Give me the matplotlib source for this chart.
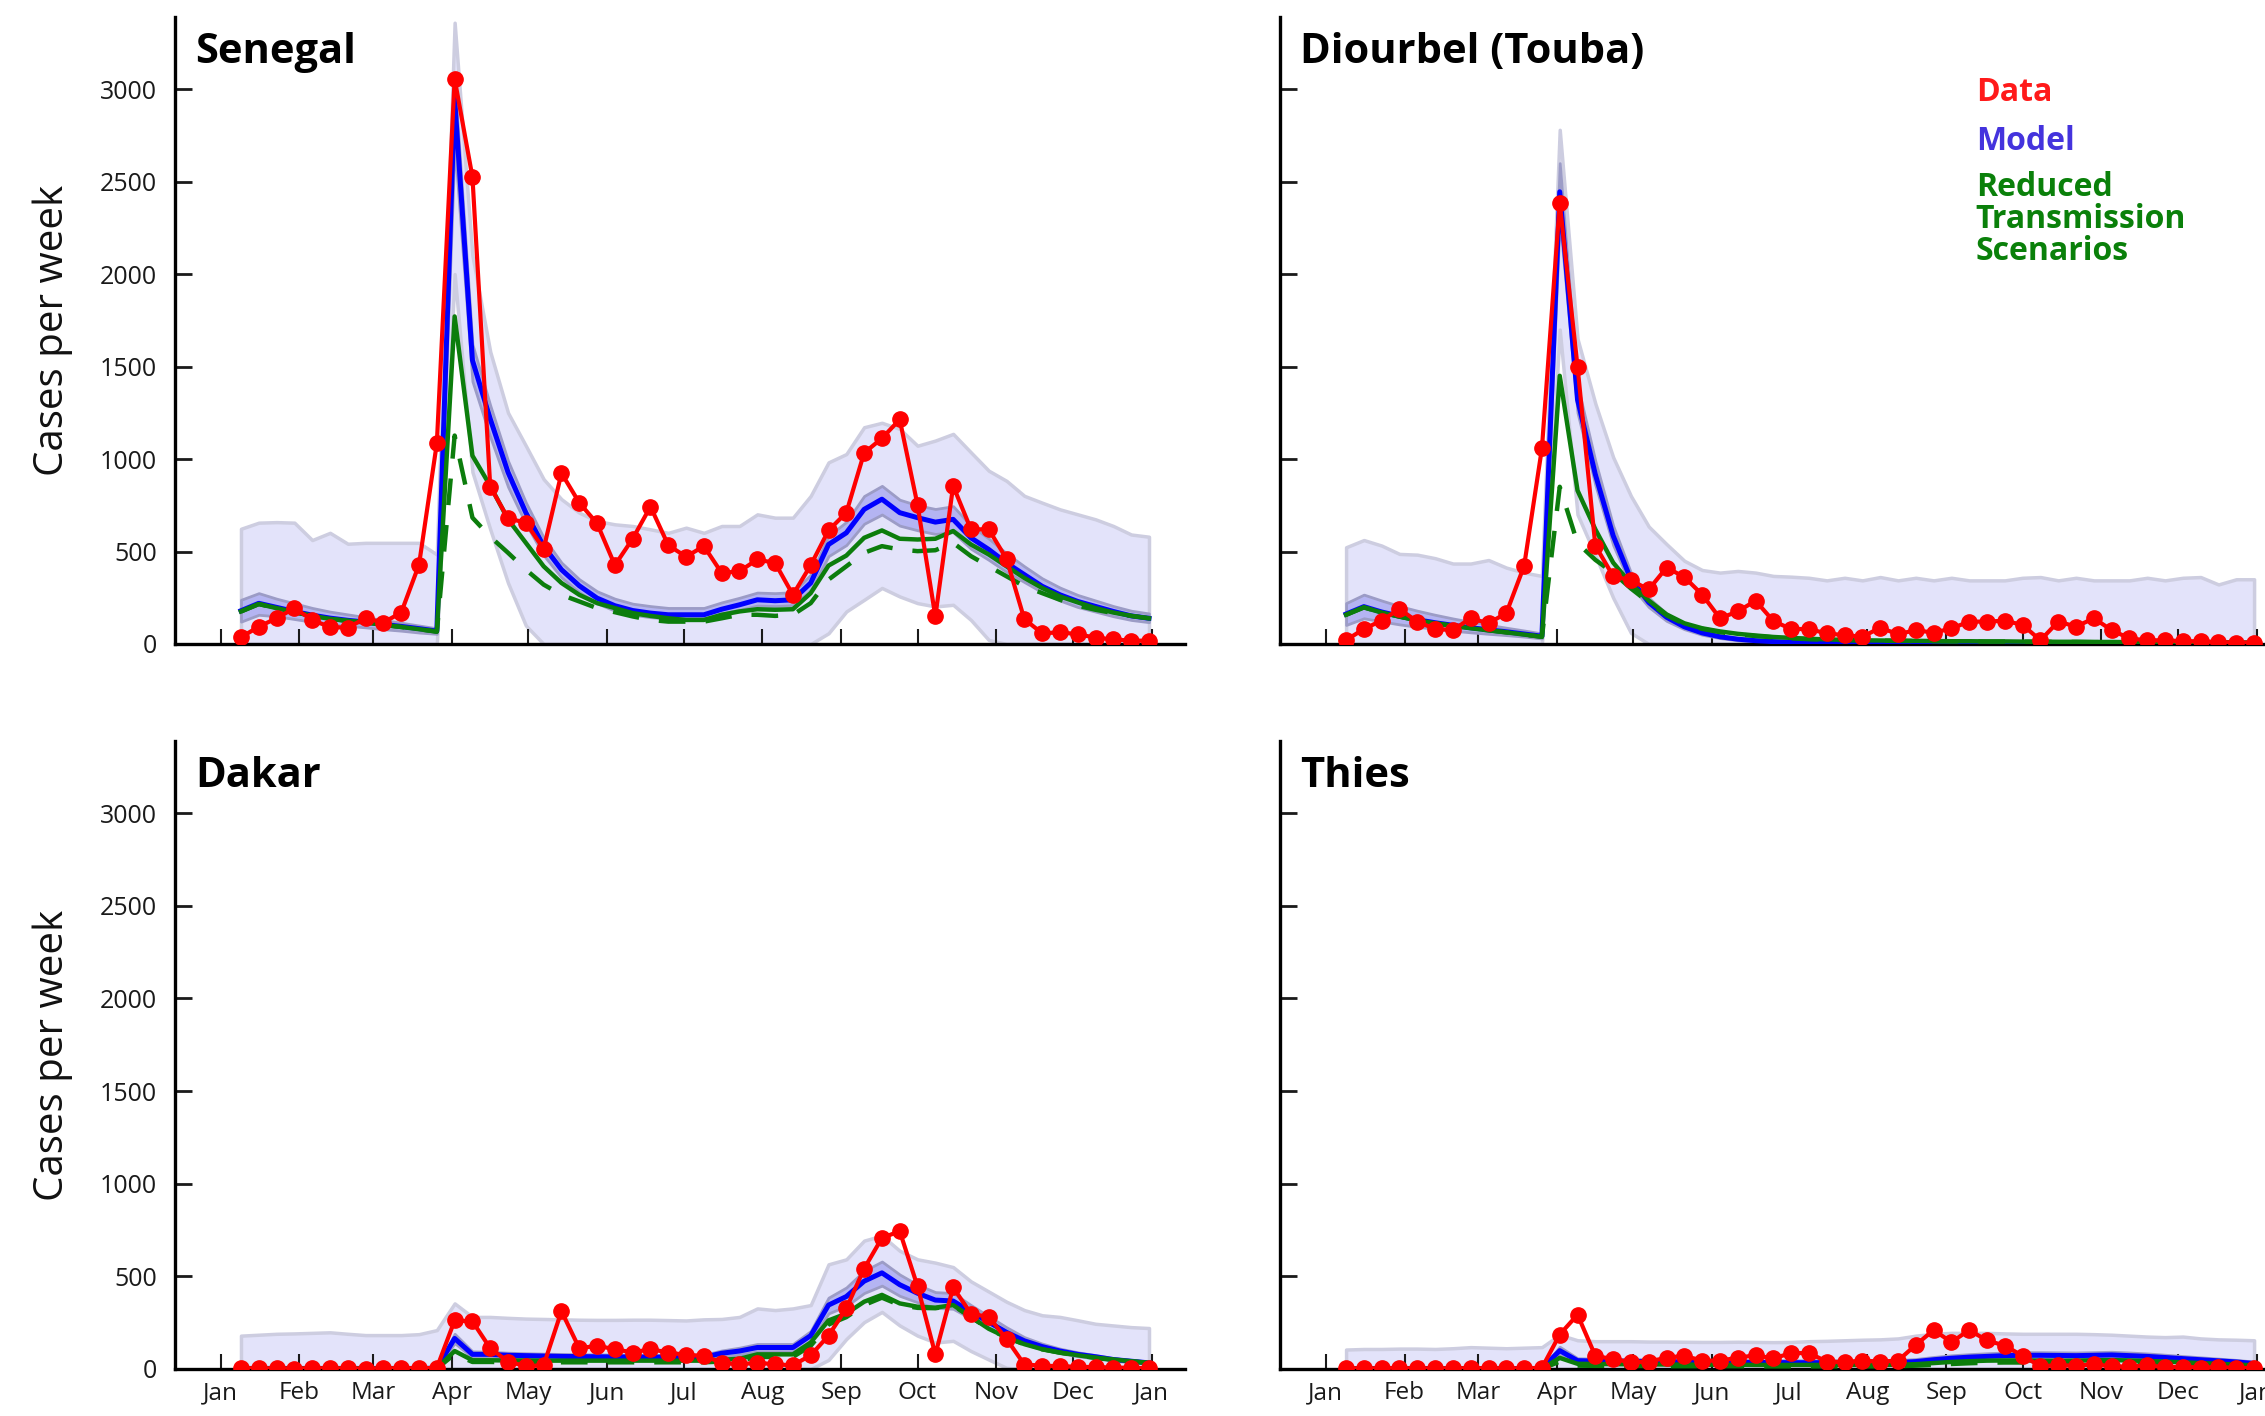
import numpy as np
import pandas as pd
import matplotlib
matplotlib.use('Agg')
import matplotlib.pyplot as plt

# weekly time grid and month ticks
weeks = pd.date_range('2020-01-09', periods=52, freq='7D')
month_ticks = pd.date_range('2020-01-01', '2021-01-01', freq='MS')
month_labels = [d.strftime('%b') for d in month_ticks]
y_ticks = [0, 500, 1000, 1500, 2000, 2500, 3000]

panel_names = ['Senegal', 'Diourbel (Touba)', 'Dakar', 'Thies']

# ---- Senegal ----
senegal_data = [36, 94, 139, 194, 130, 91, 89, 139, 116, 170, 429, 1085,
                3056, 2525, 851, 679, 656, 514, 924, 764, 652, 426, 569, 743, 534, 472,
                529, 384, 393, 457, 438, 266, 426, 614, 710, 1033, 1112, 1214, 752, 149,
                855, 620, 620, 460, 134, 58, 63, 53, 34, 25, 18, 18]
senegal_model = [180, 220, 198, 176, 156, 140, 128, 119, 106, 95, 83, 70,
                 2947, 1534, 1217, 928, 710, 529, 402, 315, 248, 207, 181, 167, 158, 158,
                 158, 188, 212, 239, 234, 239, 330, 538, 601, 728, 783, 710, 683, 659,
                 674, 574, 511, 438, 375, 312, 266, 230, 203, 176, 152, 139]
senegal_reduced = [176, 216, 194, 172, 152, 136, 125, 116, 103, 92, 80, 67,
                   1771, 1018, 855, 674, 547, 420, 330, 266, 221, 194, 167, 152, 139, 130,
                   130, 158, 176, 188, 185, 188, 275, 424, 478, 574, 614, 569, 565, 569,
                   611, 538, 484, 420, 357, 303, 257, 225, 194, 170, 152, 139]
senegal_reduced2 = [176, 216, 194, 172, 152, 136, 125, 116, 103, 92, 80, 67,
                    1127, 683, 580, 493, 402, 321, 266, 230, 194, 172, 149, 130, 121, 121,
                    121, 139, 158, 158, 152, 158, 221, 348, 420, 493, 529, 511, 502, 507,
                    547, 475, 420, 366, 312, 275, 239, 207, 185, 167, 152, 139]
senegal_inner_hi = [239, 275, 245, 220, 195, 175, 160, 145, 130, 115, 100, 85,
                    3050, 1620, 1290, 990, 765, 575, 440, 350, 285, 245, 218, 205, 195, 195,
                    195, 225, 250, 278, 275, 280, 375, 585, 660, 800, 855, 780, 750, 730,
                    745, 640, 570, 490, 420, 355, 305, 265, 235, 205, 180, 165]
senegal_inner_lo = [121, 158, 150, 135, 120, 108, 98, 90, 80, 72, 62, 55,
                    2700, 1420, 1120, 850, 650, 480, 360, 280, 220, 180, 158, 145, 138, 138,
                    138, 165, 185, 208, 205, 210, 290, 475, 535, 650, 700, 640, 615, 595,
                    605, 515, 455, 390, 335, 280, 235, 200, 175, 150, 130, 118]
senegal_outer_hi = [623, 656, 659, 656, 562, 601, 542, 547, 547, 547, 547, 484,
                    3359, 2100, 1580, 1250, 1072, 891, 783, 710, 665, 647, 638, 620, 601, 629,
                    601, 638, 638, 701, 683, 683, 801, 982, 1027, 1172, 1196, 1163, 1072, 1100,
                    1136, 1036, 937, 882, 801, 764, 728, 701, 674, 638, 592, 580]
senegal_outer_lo = [0, 0, 0, 0, 0, 0, 0, 0, 0, 0, 0, 0,
                    2000, 930, 620, 330, 100, 0, 0, 0, 0, 0, 0, 0, 0, 0,
                    0, 0, 0, 0, 0, 0, 0, 58, 176, 239, 303, 257, 221, 203,
                    212, 130, 22, 0, 0, 0, 0, 0, 0, 0, 0, 0]

# ---- Diourbel (Touba) ----
diourbel_data = [21, 81, 127, 189, 121, 81, 76, 139, 112, 167, 422, 1058,
                 2383, 1500, 532, 367, 344, 295, 413, 362, 267, 139, 176, 234, 124, 81,
                 81, 57, 48, 39, 88, 53, 75, 61, 84, 121, 121, 126, 103, 20,
                 121, 94, 139, 75, 30, 20, 20, 15, 15, 10, 8, 8]
diourbel_model = [162, 202, 173, 151, 131, 115, 101, 88, 77, 66, 54, 42,
                  2445, 1321, 917, 586, 349, 225, 145, 93, 60, 39, 26, 18, 13, 10,
                  8, 7, 6, 6, 5, 5, 5, 5, 5, 5, 5, 5, 5, 5,
                  5, 5, 5, 5, 5, 5, 4, 4, 4, 4, 4, 4]
diourbel_reduced = [158, 198, 170, 148, 128, 112, 98, 85, 74, 63, 51, 39,
                    1450, 830, 620, 440, 325, 235, 160, 112, 85, 68, 55, 46, 38, 33,
                    28, 25, 22, 20, 19, 18, 17, 16, 15, 15, 14, 14, 13, 13,
                    12, 12, 11, 11, 10, 10, 10, 9, 9, 9, 8, 8]
diourbel_reduced2 = [158, 198, 170, 148, 128, 112, 98, 85, 74, 63, 51, 39,
                     850, 545, 455, 385, 300, 225, 155, 108, 82, 64, 52, 43, 36, 31,
                     26, 23, 21, 19, 18, 17, 16, 15, 14, 14, 13, 13, 12, 12,
                     11, 11, 10, 10, 9, 9, 9, 8, 8, 8, 7, 7]
diourbel_inner_hi = [221, 267, 235, 205, 180, 158, 138, 120, 104, 88, 73, 57,
                     2600, 1400, 990, 640, 385, 250, 165, 108, 72, 48, 34, 25, 19, 16,
                     14, 13, 12, 12, 11, 11, 11, 11, 11, 11, 11, 11, 11, 11,
                     11, 11, 11, 11, 10, 10, 10, 10, 10, 10, 10, 10]
diourbel_inner_lo = [103, 139, 122, 106, 93, 82, 72, 63, 55, 48, 40, 30,
                     2300, 1250, 860, 535, 315, 200, 125, 80, 50, 32, 20, 13, 9, 6,
                     5, 4, 3, 3, 2, 2, 2, 2, 2, 2, 2, 2, 2, 2,
                     2, 2, 2, 2, 2, 2, 2, 2, 2, 2, 2, 2]
diourbel_outer_hi = [523, 562, 532, 487, 483, 464, 435, 435, 454, 413, 386, 368,
                     2780, 1650, 1300, 1010, 800, 635, 540, 450, 400, 386, 395, 386, 368, 364,
                     358, 344, 358, 344, 362, 344, 358, 344, 358, 344, 344, 344, 358, 362,
                     344, 358, 344, 344, 344, 358, 344, 358, 362, 322, 350, 350]
diourbel_outer_lo = [0, 0, 0, 0, 0, 0, 0, 0, 0, 0, 0, 0,
                     1700, 700, 480, 250, 60, 0, 0, 0, 0, 0, 0, 0, 0, 0,
                     0, 0, 0, 0, 0, 0, 0, 0, 0, 0, 0, 0, 0, 0,
                     0, 0, 0, 0, 0, 0, 0, 0, 0, 0, 0, 0]

# ---- Dakar ----
dakar_data = [5, 3, 4, 2, 5, 3, 4, 2, 3, 5, 4, 6,
              262, 257, 112, 40, 15, 20, 312, 112, 125, 107, 89, 107, 89, 76,
              71, 34, 25, 34, 25, 20, 74, 180, 327, 542, 707, 744, 446, 79,
              440, 299, 281, 162, 24, 18, 15, 12, 10, 8, 6, 5]
dakar_model = [3, 3, 3, 3, 3, 3, 3, 3, 3, 3, 3, 4,
               165, 79, 79, 74, 72, 70, 68, 67, 66, 65, 65, 64, 64, 64,
               64, 85, 97, 116, 116, 116, 180, 345, 391, 474, 519, 455, 409, 372,
               367, 308, 253, 198, 152, 121, 97, 79, 66, 51, 42, 33]
dakar_reduced = [2, 2, 2, 2, 2, 2, 2, 2, 2, 2, 2, 3,
                 97, 47, 47, 46, 46, 45, 45, 45, 45, 45, 45, 45, 45, 45,
                 45, 50, 55, 79, 79, 79, 143, 262, 299, 363, 400, 354, 336, 331,
                 345, 281, 217, 171, 134, 107, 89, 74, 61, 51, 42, 33]
dakar_reduced2 = [2, 2, 2, 2, 2, 2, 2, 2, 2, 2, 2, 2,
                  80, 38, 38, 37, 37, 36, 36, 36, 36, 36, 36, 36, 36, 36,
                  36, 40, 45, 65, 65, 65, 125, 240, 280, 345, 385, 345, 330, 328,
                  342, 280, 216, 170, 133, 106, 88, 73, 60, 50, 41, 32]
dakar_inner_hi = [6, 6, 6, 6, 6, 6, 6, 6, 6, 6, 6, 7,
                  190, 95, 93, 88, 85, 83, 81, 80, 79, 78, 78, 77, 77, 77,
                  77, 100, 115, 135, 135, 135, 205, 385, 440, 530, 580, 510, 455, 415,
                  410, 345, 285, 225, 172, 137, 110, 90, 75, 59, 48, 38]
dakar_inner_lo = [0, 0, 0, 0, 0, 0, 0, 0, 0, 0, 0, 0,
                  140, 62, 62, 58, 56, 54, 53, 52, 51, 50, 50, 49, 49, 49,
                  49, 68, 78, 95, 95, 95, 150, 300, 340, 410, 450, 395, 360, 330,
                  325, 272, 222, 175, 134, 106, 85, 69, 57, 44, 36, 28]
dakar_outer_hi = [180, 185, 190, 192, 195, 198, 190, 183, 183, 183, 188, 210,
                  354, 281, 281, 276, 272, 270, 268, 266, 265, 265, 266, 266, 264, 262,
                  268, 270, 281, 327, 318, 327, 345, 565, 592, 693, 720, 638, 592, 574,
                  550, 473, 418, 363, 318, 290, 281, 263, 244, 235, 226, 221]
dakar_outer_lo = [0, 0, 0, 0, 0, 0, 0, 0, 0, 0, 0, 0,
                  0, 0, 0, 0, 0, 0, 0, 0, 0, 0, 0, 0, 0, 0,
                  0, 0, 0, 0, 0, 0, 0, 49, 162, 253, 308, 235, 180, 143,
                  152, 97, 51, 6, 0, 0, 0, 0, 0, 0, 0, 0]

# ---- Thies ----
thies_data = [3, 4, 3, 5, 3, 4, 3, 5, 4, 3, 4, 6,
              186, 293, 71, 53, 37, 40, 61, 71, 45, 45, 61, 74, 57, 86,
              86, 40, 37, 45, 40, 45, 130, 210, 145, 210, 154, 126, 71, 15,
              20, 18, 25, 15, 12, 20, 10, 12, 8, 10, 6, 5]
thies_model = [2, 2, 2, 2, 2, 2, 2, 2, 2, 2, 2, 2,
               99, 45, 43, 42, 41, 40, 39, 38, 37, 36, 36, 35, 35, 34,
               34, 34, 34, 34, 34, 35, 40, 50, 58, 64, 68, 72, 74, 74,
               73, 72, 74, 76, 72, 68, 62, 56, 50, 44, 38, 30]
thies_reduced = [1, 1, 1, 1, 1, 1, 1, 1, 1, 1, 1, 1,
                 60, 28, 27, 26, 25, 25, 24, 24, 23, 23, 23, 22, 22, 22,
                 22, 22, 22, 22, 22, 23, 26, 32, 38, 42, 45, 46, 46, 45,
                 44, 45, 47, 48, 46, 43, 40, 36, 32, 28, 24, 20]
thies_reduced2 = [1, 1, 1, 1, 1, 1, 1, 1, 1, 1, 1, 1,
                  40, 18, 17, 17, 16, 16, 15, 15, 15, 15, 15, 14, 14, 14,
                  14, 14, 14, 14, 14, 15, 18, 22, 27, 31, 34, 35, 35, 34,
                  34, 35, 37, 38, 36, 34, 31, 28, 25, 22, 19, 16]
thies_inner_hi = [5, 5, 5, 5, 5, 5, 5, 5, 5, 5, 5, 5,
                  120, 58, 56, 55, 54, 53, 52, 51, 50, 49, 49, 48, 48, 47,
                  47, 47, 47, 47, 47, 48, 54, 65, 74, 80, 85, 89, 91, 91,
                  90, 89, 91, 93, 89, 84, 77, 70, 63, 56, 49, 40]
thies_inner_lo = [0, 0, 0, 0, 0, 0, 0, 0, 0, 0, 0, 0,
                  75, 33, 31, 30, 29, 29, 28, 28, 27, 27, 27, 26, 26, 26,
                  26, 26, 26, 26, 26, 27, 30, 37, 44, 49, 53, 56, 58, 58,
                  57, 57, 58, 60, 57, 53, 48, 44, 39, 34, 29, 22]
thies_outer_hi = [105, 108, 108, 110, 110, 108, 112, 118, 115, 112, 115, 118,
                  185, 155, 150, 150, 150, 148, 148, 147, 146, 146, 147, 146, 145, 146,
                  150, 152, 155, 158, 160, 165, 180, 190, 195, 195, 195, 192, 190, 190,
                  190, 190, 188, 185, 180, 175, 172, 175, 165, 160, 158, 155]
thies_outer_lo = [0] * 52

panels = [
    (senegal_data, senegal_model, senegal_reduced, senegal_reduced2,
     senegal_inner_lo, senegal_inner_hi, senegal_outer_lo, senegal_outer_hi),
    (diourbel_data, diourbel_model, diourbel_reduced, diourbel_reduced2,
     diourbel_inner_lo, diourbel_inner_hi, diourbel_outer_lo, diourbel_outer_hi),
    (dakar_data, dakar_model, dakar_reduced, dakar_reduced2,
     dakar_inner_lo, dakar_inner_hi, dakar_outer_lo, dakar_outer_hi),
    (thies_data, thies_model, thies_reduced, thies_reduced2,
     thies_inner_lo, thies_inner_hi, thies_outer_lo, thies_outer_hi),
]

FONT = ['Open Sans', 'DejaVu Sans']
plt.rcParams['font.family'] = FONT

fig = plt.figure(figsize=(22.65, 14.16), dpi=100)
positions = [
    [0.0772, 0.5452, 0.4458, 0.4428],
    [0.5651, 0.5452, 0.4458, 0.4428],
    [0.0772, 0.0332, 0.4458, 0.4435],
    [0.5651, 0.0332, 0.4458, 0.4435],
]

xmin = pd.Timestamp('2019-12-14')
xmax = pd.Timestamp('2021-01-14')

for i, (name, pos, arrs) in enumerate(zip(panel_names, positions, panels)):
    data, model, red1, red2, in_lo, in_hi, out_lo, out_hi = arrs
    ax = fig.add_axes(pos)

    ax.fill_between(weeks, out_lo, out_hi, facecolor='#e3e3fa',
                    edgecolor='#cdcde0', linewidth=2.5, zorder=1)
    ax.fill_between(weeks, in_lo, in_hi, facecolor='#b4b4f2',
                    edgecolor='#9c9cc6', linewidth=2, zorder=2)
    ax.plot(weeks, model, color='#0000ff', lw=3.6, zorder=3)
    ax.plot(weeks, red2, color='#0c7d0c', lw=3.2, dashes=(6, 4.5), zorder=4)
    ax.plot(weeks, red1, color='#0c7d0c', lw=3.2, zorder=5)
    ax.plot(weeks, data, color='#ff0000', lw=3, marker='o', ms=11,
            zorder=6)

    ax.set_xlim(xmin, xmax)
    ax.set_ylim(0, 3390)
    ax.set_xticks(month_ticks)
    ax.set_yticks(y_ticks)
    for side in ['top', 'right']:
        ax.spines[side].set_visible(False)
    for side in ['left', 'bottom']:
        ax.spines[side].set_linewidth(2.4)
    ax.tick_params(axis='x', direction='in', length=11, width=1.5, pad=9,
                   labelsize=17.5, colors='#1a1a1a')
    ax.tick_params(axis='y', direction='in', length=12, width=2, pad=13,
                   labelsize=18, colors='#1a1a1a')

    if i < 2:
        ax.set_xticklabels([])
    else:
        ax.set_xticklabels(month_labels)
    if i % 2 == 1:
        ax.set_yticklabels([])
    else:
        ax.set_yticklabels([str(v) for v in y_ticks])
        ax.set_ylabel('Cases per week', fontsize=29, color='#111111')
        ax.yaxis.set_label_coords(-0.101, 0.5)

    ax.text(0.02, 0.926, name, transform=ax.transAxes, fontsize=30,
            fontweight='bold', va='baseline', ha='left')

    if i == 1:
        ax.text(0.689, 0.866, 'Data', transform=ax.transAxes, fontsize=23,
                fontweight='bold', color='#ff1a1a', va='baseline')
        ax.text(0.689, 0.788, 'Model', transform=ax.transAxes, fontsize=23,
                fontweight='bold', color='#4433dd', va='baseline')
        for txt, yy in zip(['Reduced', 'Transmission', 'Scenarios'],
                           [0.7145, 0.663, 0.612]):
            ax.text(0.689, yy, txt, transform=ax.transAxes, fontsize=23,
                    fontweight='bold', color='#0a800a', va='baseline')

fig.savefig('out.png', dpi=100)
